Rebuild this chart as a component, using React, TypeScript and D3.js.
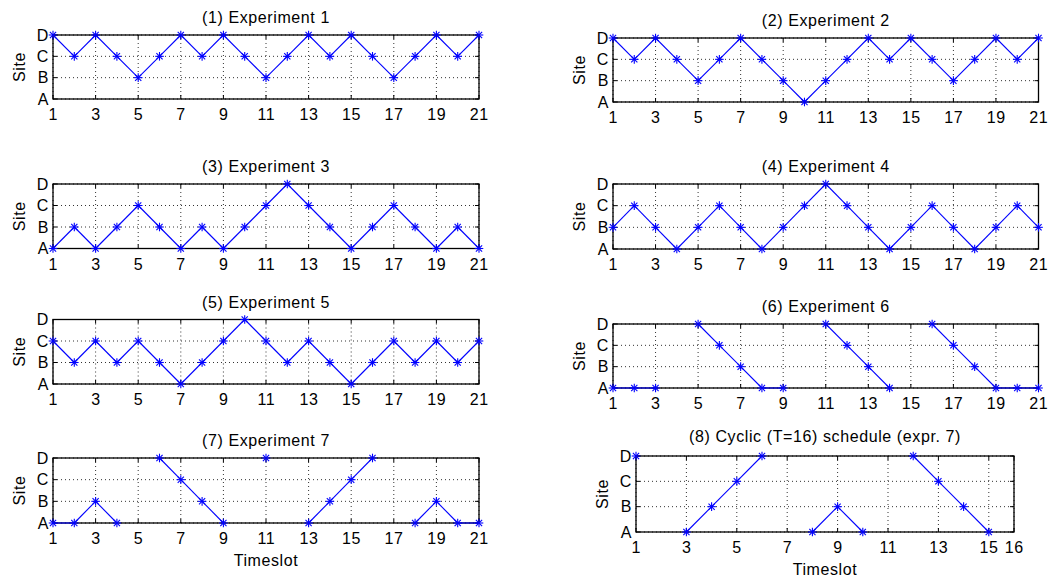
import React from "react";
import * as d3 from "d3";

const sites = ["A", "B", "C", "D"];
const timeslots21 = d3.range(1, 22);
const timeslots16 = d3.range(1, 17);
const xTicks21 = [1, 3, 5, 7, 9, 11, 13, 15, 17, 19, 21];
const xTicks16 = [1, 3, 5, 7, 9, 11, 13, 15, 16];

const exp1 = ["D","C","D","C","B","C","D","C","D","C","B","C","D","C","D","C","B","C","D","C","D"];
const exp2 = ["D","C","D","C","B","C","D","C","B","A","B","C","D","C","D","C","B","C","D","C","D"];
const exp3 = ["A","B","A","B","C","B","A","B","A","B","C","D","C","B","A","B","C","B","A","B","A"];
const exp4 = ["B","C","B","A","B","C","B","A","B","C","D","C","B","A","B","C","B","A","B","C","B"];
const exp5 = ["C","B","C","B","C","B","A","B","C","D","C","B","C","B","A","B","C","B","C","B","C"];
const exp6 = ["A","A","A",null,"D","C","B","A","A",null,"D","C","B","A",null,"D","C","B","A","A","A"];
const exp7 = ["A","A","B","A",null,"D","C","B","A",null,"D",null,"A","B","C","D",null,"A","B","A","A"];
const exp8 = ["D",null,"A","B","C","D",null,"A","B","A",null,"D","C","B","A",null];

const titles = [
  "(1) Experiment 1",
  "(2) Experiment 2",
  "(3) Experiment 3",
  "(4) Experiment 4",
  "(5) Experiment 5",
  "(6) Experiment 6",
  "(7) Experiment 7",
  "(8) Cyclic (T=16) schedule (expr. 7)",
];

type PanelCfg = {
  title: string;
  data: (string | null)[];
  slots: number[];
  ticks: number[];
  box: [number, number, number, number]; // x0, x1, y0, y1
  xlabel: boolean;
  titleGap: number;
};

const L: [number, number] = [53, 479];
const R: [number, number] = [613, 1038.5];

const panels: PanelCfg[] = [
  { title: titles[0], data: exp1, slots: timeslots21, ticks: xTicks21, box: [L[0], L[1], 35, 99], xlabel: false, titleGap: 12 },
  { title: titles[1], data: exp2, slots: timeslots21, ticks: xTicks21, box: [R[0], R[1], 38, 102], xlabel: false, titleGap: 12 },
  { title: titles[2], data: exp3, slots: timeslots21, ticks: xTicks21, box: [L[0], L[1], 184, 248.5], xlabel: false, titleGap: 12 },
  { title: titles[3], data: exp4, slots: timeslots21, ticks: xTicks21, box: [R[0], R[1], 184, 249], xlabel: false, titleGap: 12 },
  { title: titles[4], data: exp5, slots: timeslots21, ticks: xTicks21, box: [L[0], L[1], 319.5, 384], xlabel: false, titleGap: 12 },
  { title: titles[5], data: exp6, slots: timeslots21, ticks: xTicks21, box: [R[0], R[1], 324, 388], xlabel: false, titleGap: 12 },
  { title: titles[6], data: exp7, slots: timeslots21, ticks: xTicks21, box: [L[0], L[1], 458, 523], xlabel: true, titleGap: 12 },
  { title: titles[7], data: exp8, slots: timeslots16, ticks: xTicks16, box: [636, 1014, 456, 532], xlabel: true, titleGap: 14 },
];

const FONT = "'Liberation Sans', Arial, Helvetica, sans-serif";
const BLUE = "#0000ff";
const FS = 16;
const LS = 0.6;

function Star({ x, y }: { x: number; y: number }) {
  const a = 4.3;
  const b = 3.1;
  return (
    <g stroke={BLUE} strokeWidth={1.1} style={{ stroke: BLUE }}>
      <line x1={x - a} y1={y} x2={x + a} y2={y} />
      <line x1={x} y1={y - a} x2={x} y2={y + a} />
      <line x1={x - b} y1={y - b} x2={x + b} y2={y + b} />
      <line x1={x - b} y1={y + b} x2={x + b} y2={y - b} />
    </g>
  );
}

function Panel({ cfg }: { cfg: PanelCfg }) {
  const [x0, x1, y0, y1] = cfg.box;
  const xs = d3.scaleLinear().domain([cfg.slots[0], cfg.slots[cfg.slots.length - 1]]).range([x0, x1]);
  const ys = d3.scalePoint<string>().domain(sites).range([y1, y0]).padding(0);
  const pts = cfg.slots.map((t, i) => ({ t, s: cfg.data[i] }));
  const segs: { a: { t: number; s: string }; b: { t: number; s: string } }[] = [];
  for (let i = 0; i < pts.length - 1; i++) {
    if (pts[i].s !== null && pts[i + 1].s !== null) {
      segs.push({ a: pts[i] as { t: number; s: string }, b: pts[i + 1] as { t: number; s: string } });
    }
  }
  const tl = 4;
  return (
    <g>
      {/* grid */}
      <g stroke="#000" strokeWidth={1} strokeDasharray="1,3" opacity={0.8}>
        {cfg.ticks.map((t) => (
          <line key={"gx" + t} x1={xs(t)} x2={xs(t)} y1={y0} y2={y1} />
        ))}
        {sites.map((s) => (
          <line key={"gy" + s} x1={x0} x2={x1} y1={ys(s)} y2={ys(s)} />
        ))}
      </g>
      {/* ticks */}
      <g stroke="#000" strokeWidth={1}>
        {cfg.ticks.map((t) => (
          <g key={"t" + t}>
            <line x1={xs(t)} x2={xs(t)} y1={y1} y2={y1 - tl} />
            <line x1={xs(t)} x2={xs(t)} y1={y0} y2={y0 + tl} />
          </g>
        ))}
        {sites.map((s) => (
          <g key={"ty" + s}>
            <line x1={x0} x2={x0 + tl} y1={ys(s)} y2={ys(s)} />
            <line x1={x1} x2={x1 - tl} y1={ys(s)} y2={ys(s)} />
          </g>
        ))}
      </g>
      <rect x={x0} y={y0} width={x1 - x0} height={y1 - y0} fill="none" stroke="#000" strokeWidth={1.3} />
      {/* data */}
      <g style={{ stroke: BLUE }} strokeWidth={1.1}>
        {segs.map((sg, i) => (
          <line
            key={"s" + i}
            x1={xs(sg.a.t)}
            y1={ys(sg.a.s) as number}
            x2={xs(sg.b.t)}
            y2={ys(sg.b.s) as number}
          />
        ))}
      </g>
      {pts
        .filter((d) => d.s !== null)
        .map((d) => (
          <Star key={"m" + d.t} x={xs(d.t)} y={ys(d.s as string) as number} />
        ))}
      {/* labels */}
      <g fontFamily={FONT} fontSize={FS} fill="#000" letterSpacing={LS}>
        {cfg.ticks.map((t) => (
          <text key={"xl" + t} x={xs(t) + LS / 2} y={y1 + 21} textAnchor="middle">
            {t}
          </text>
        ))}
        {sites.map((s) => (
          <text key={"yl" + s} x={x0 - 4} y={(ys(s) as number) + 5.8} textAnchor="end">
            {s}
          </text>
        ))}
        <text x={(x0 + x1) / 2} y={y0 - cfg.titleGap} textAnchor="middle">
          {cfg.title}
        </text>
        <text
          transform={`translate(${x0 - 28.5},${(y0 + y1) / 2}) rotate(-90)`}
          textAnchor="middle"
        >
          Site
        </text>
        {cfg.xlabel && (
          <text x={(x0 + x1) / 2} y={y1 + 43} textAnchor="middle">
            Timeslot
          </text>
        )}
      </g>
    </g>
  );
}

export default function App() {
  return (
    <div style={{ position: "fixed", left: 0, top: 0, width: 1053, height: 579, background: "#fff" }}>
      <svg width={1053} height={579} style={{ display: "block" }}>
        <rect width={1053} height={579} fill="#fff" />
        {panels.map((p, i) => (
          <Panel key={i} cfg={p} />
        ))}
      </svg>
    </div>
  );
}
